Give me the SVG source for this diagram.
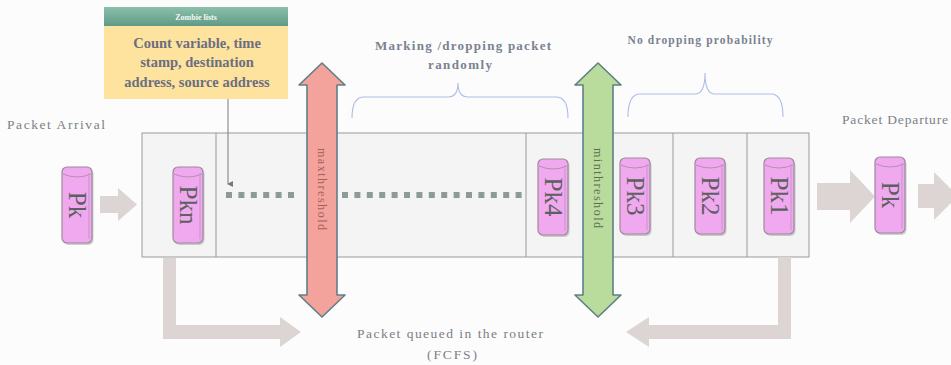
<svg xmlns="http://www.w3.org/2000/svg" width="951" height="365" viewBox="0 0 951 365">
  <defs>
    <style>
      .serif { font-family: "Liberation Serif", "Times New Roman", serif; }
      .lbl { font-family: "Liberation Serif", "Times New Roman", serif; fill: #7b7f86; }
      .lblb { font-family: "Liberation Serif", "Times New Roman", serif; fill: #7a8290; font-weight: bold; }
      .pktxt { font-family: "Liberation Serif", "Times New Roman", serif; font-size: 25px; fill: #5c6060; }
      .thr { font-family: "Liberation Serif", "Times New Roman", serif; font-size: 12px; }
      .note { font-family: "Liberation Serif", "Times New Roman", serif; font-size: 14.5px; font-weight: bold; fill: #6c6e80; }
      .hdr { font-family: "Liberation Serif", "Times New Roman", serif; font-size: 8px; font-weight: bold; fill: #f4f8f6; }
      .brace { fill: none; stroke: #aebde6; stroke-width: 1.1; }
      .flow { fill: #ddd4d4; }
      .cell { fill: #f4f4f4; stroke: #9a9a9a; stroke-width: 1; }
      .dot { fill: #8d9a9a; }
    </style>
    <linearGradient id="hdrGrad" x1="0" y1="0" x2="0" y2="1">
      <stop offset="0" stop-color="#8cc0ab"/>
      <stop offset="1" stop-color="#5f9a86"/>
    </linearGradient>
    <!-- packet: a small upright cylinder -->
    <g id="pkt">
      <rect x="1.5" y="2" width="30" height="76" rx="5" fill="#8c8c8c" opacity="0.4"/>
      <rect x="0" y="0" width="30" height="76" rx="5" fill="#f0a8ee" stroke="#9c8a9b" stroke-width="1.2"/>
      <path d="M1,7 Q15,13 29,7" fill="none" stroke="#b88db6" stroke-width="1"/>
      <path d="M27,6 L27,72" fill="none" stroke="#c995c7" stroke-width="1"/>
    </g>
    <marker id="tip" markerWidth="6" markerHeight="6" refX="3" refY="5" orient="auto-start-reverse" markerUnits="userSpaceOnUse">
      <path d="M0,0 L6,0 L3,6 Z" fill="#777"/>
    </marker>
  </defs>

  <rect width="951" height="365" fill="#fcfcfc"/>

  <!-- router queue -->
  <g id="queue">
    <rect class="cell" x="142" y="133" width="667" height="124"/>
    <line x1="216" y1="133" x2="216" y2="257" stroke="#9a9a9a"/>
    <line x1="526" y1="133" x2="526" y2="257" stroke="#9a9a9a"/>
    <line x1="673" y1="133" x2="673" y2="257" stroke="#9a9a9a"/>
    <line x1="747" y1="133" x2="747" y2="257" stroke="#9a9a9a"/>
  </g>

  <!-- waiting slots -->
  <g id="slots">
    <rect class="dot" x="226" y="192" width="6" height="6"/>
    <rect class="dot" x="238.4" y="192" width="6" height="6"/>
    <rect class="dot" x="250.8" y="192" width="6" height="6"/>
    <rect class="dot" x="263.2" y="192" width="6" height="6"/>
    <rect class="dot" x="275.6" y="192" width="6" height="6"/>
    <rect class="dot" x="288" y="192" width="6" height="6"/>
    <rect class="dot" x="342" y="192" width="6" height="6"/>
    <rect class="dot" x="354.4" y="192" width="6" height="6"/>
    <rect class="dot" x="366.8" y="192" width="6" height="6"/>
    <rect class="dot" x="379.2" y="192" width="6" height="6"/>
    <rect class="dot" x="391.6" y="192" width="6" height="6"/>
    <rect class="dot" x="404" y="192" width="6" height="6"/>
    <rect class="dot" x="416.4" y="192" width="6" height="6"/>
    <rect class="dot" x="428.8" y="192" width="6" height="6"/>
    <rect class="dot" x="441.2" y="192" width="6" height="6"/>
    <rect class="dot" x="453.6" y="192" width="6" height="6"/>
    <rect class="dot" x="466" y="192" width="6" height="6"/>
    <rect class="dot" x="478.4" y="192" width="6" height="6"/>
    <rect class="dot" x="490.8" y="192" width="6" height="6"/>
    <rect class="dot" x="503.2" y="192" width="6" height="6"/>
    <rect class="dot" x="515.6" y="192" width="6" height="6"/>
  </g>

  <!-- connectors -->
  <g id="connectors">
    <path class="flow" d="M100,196 L118,196 L118,188 L137,204.5 L118,221 L118,213 L100,213 Z"/>
    <path class="flow" d="M817,183 L850,183 L850,170 L875,196.5 L850,223 L850,210 L817,210 Z"/>
    <path class="flow" d="M918,184 L934,184 L934,172 L958,196 L934,220 L934,208 L918,208 Z"/>
    <path class="flow" d="M163,258 L176,258 L176,325 L280,325 L280,317 L301,332 L280,347 L280,339 L163,339 Z"/>
    <path class="flow" d="M791,257 L778,257 L778,325 L649,325 L649,317 L626,332 L649,347 L649,339 L791,339 Z"/>
    <line x1="228" y1="99" x2="228" y2="184" stroke="#7a7a7a" stroke-width="1" marker-end="url(#tip)"/>
  </g>

  <!-- packets -->
  <g id="pk-in"><use href="#pkt" x="62" y="167"/><text class="pktxt" text-anchor="middle" dominant-baseline="central" transform="translate(77,205) rotate(90)">Pk</text></g>
  <g id="pk-n"><use href="#pkt" x="173" y="167"/><text class="pktxt" text-anchor="middle" dominant-baseline="central" transform="translate(188,205) rotate(90)">Pkn</text></g>
  <g id="pk-4"><use href="#pkt" x="538" y="159"/><text class="pktxt" text-anchor="middle" dominant-baseline="central" transform="translate(553,197) rotate(90)">Pk4</text></g>
  <g id="pk-3"><use href="#pkt" x="620" y="158"/><text class="pktxt" text-anchor="middle" dominant-baseline="central" transform="translate(635,196) rotate(90)">Pk3</text></g>
  <g id="pk-2"><use href="#pkt" x="695" y="158"/><text class="pktxt" text-anchor="middle" dominant-baseline="central" transform="translate(710,196) rotate(90)">Pk2</text></g>
  <g id="pk-1"><use href="#pkt" x="764" y="158"/><text class="pktxt" text-anchor="middle" dominant-baseline="central" transform="translate(779,196) rotate(90)">Pk1</text></g>
  <g id="pk-out"><use href="#pkt" x="875" y="157"/><text class="pktxt" text-anchor="middle" dominant-baseline="central" transform="translate(890,195) rotate(90)">Pk</text></g>

  <!-- thresholds -->
  <g id="max-threshold">
    <path d="M322,63 L345,85 L337,85 L337,295 L345,295 L322,317 L299,295 L307,295 L307,85 L299,85 Z" fill="#f4a39c" stroke="#5f7f86" stroke-width="1.6" stroke-linejoin="round"/>
    <text class="thr" fill="#a85f5c" text-anchor="middle" dominant-baseline="central" textLength="82" transform="translate(322,189) rotate(90)">maxthreshold</text>
  </g>
  <g id="min-threshold">
    <path d="M598,63 L621,85 L613,85 L613,295 L621,295 L598,317 L575,295 L583,295 L583,85 L575,85 Z" fill="#b9dc9c" stroke="#5f7f86" stroke-width="1.6" stroke-linejoin="round"/>
    <text class="thr" fill="#5d6e55" text-anchor="middle" dominant-baseline="central" textLength="80" transform="translate(598,188) rotate(90)">minthreshold</text>
  </g>

  <!-- zombie list note -->
  <g id="zombie-list">
    <rect x="104" y="7" width="184" height="19" fill="url(#hdrGrad)"/>
    <text class="hdr" x="196" y="19.5" text-anchor="middle">Zombie lists</text>
    <rect x="104" y="26" width="184" height="73" fill="#fde39e"/>
    <text class="note" x="197" y="48" text-anchor="middle">Count variable, time</text>
    <text class="note" x="197" y="67" text-anchor="middle">stamp, destination</text>
    <text class="note" x="197" y="87" text-anchor="middle">address, source address</text>
  </g>

  <!-- region labels -->
  <g id="random-region">
    <text class="lblb" x="463" y="50" font-size="13" text-anchor="middle" textLength="176">Marking /dropping packet</text>
    <text class="lblb" x="460" y="69" font-size="13" text-anchor="middle" textLength="64">randomly</text>
    <path class="brace" d="M352,118 Q352,97 364,97 L448,97 Q458,97 458,83 Q458,97 468,97 L556,97 Q568,97 568,118"/>
  </g>
  <g id="safe-region">
    <text class="lblb" x="700" y="44" font-size="11.5" text-anchor="middle" textLength="145">No dropping probability</text>
    <path class="brace" d="M628,117 Q628,94 640,94 L695,94 Q705,94 705,73 Q705,94 715,94 L771,94 Q783,94 783,117"/>
  </g>

  <g id="labels">
    <text class="lbl" x="7" y="129" font-size="13.5" textLength="98">Packet Arrival</text>
    <text class="lbl" x="842" y="124" font-size="13.5" textLength="106">Packet Departure</text>
    <text class="lbl" x="450" y="338" font-size="13.5" text-anchor="middle" textLength="186">Packet queued in the router</text>
    <text class="lbl" x="452" y="359" font-size="13.5" text-anchor="middle" textLength="50">(FCFS)</text>
  </g>
</svg>
